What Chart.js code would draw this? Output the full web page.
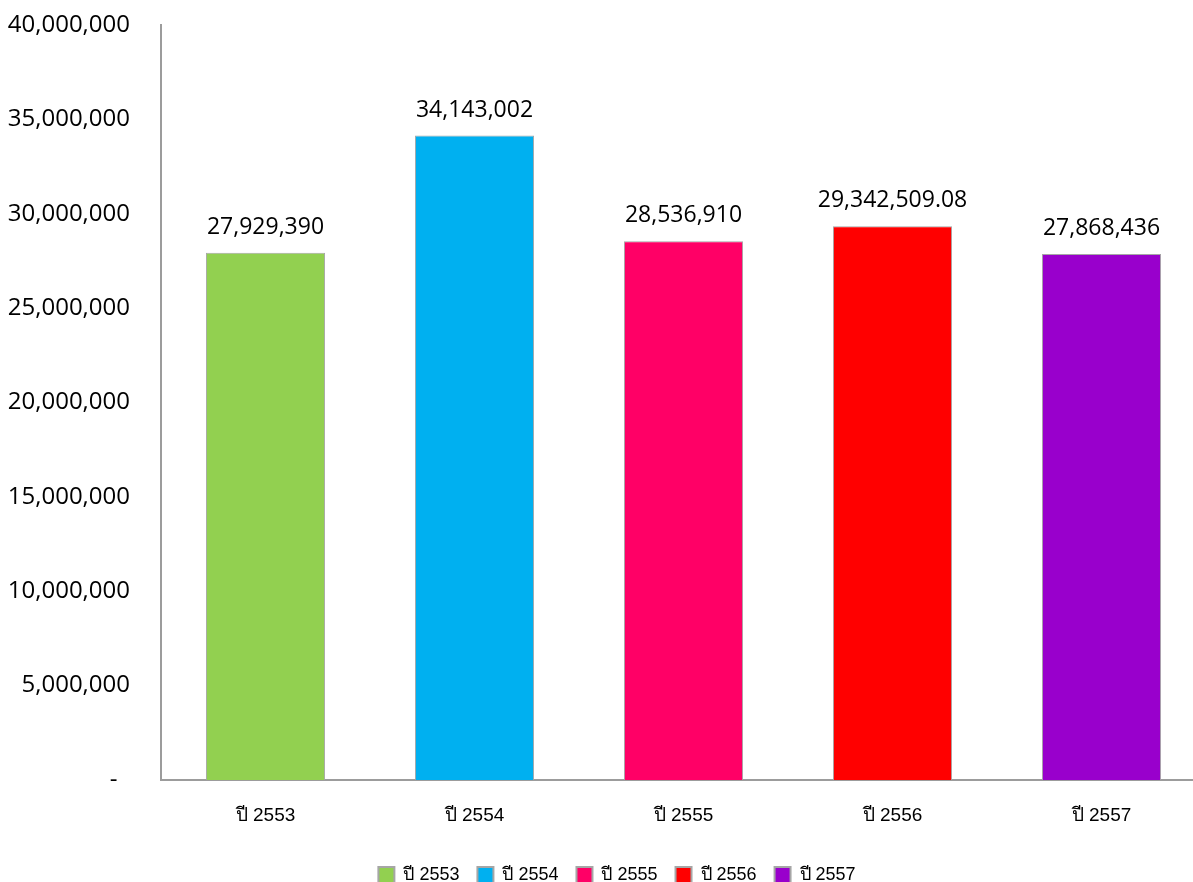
<!DOCTYPE html>
<html>
<head>
<meta charset="utf-8">
<script src="https://cdn.jsdelivr.net/npm/chart.js@4.4.0/dist/chart.umd.min.js"></script>
<style>
  html, body { margin: 0; padding: 0; background: #fff; overflow: hidden; }
  #wrap { width: 1258px; height: 882px; }
</style>
</head>
<body>
<div id="wrap"><canvas id="budgetChart" width="1258" height="882"></canvas></div>
<script>
/* =========================
   DATA
========================= */
const years = ["ปี 2553", "ปี 2554", "ปี 2555", "ปี 2556", "ปี 2557"];
const amounts = [27929390, 34143002, 28536910, 29342509.08, 27868436];
const barColors = ["#92d050", "#00b0f0", "#ff0066", "#ff0000", "#9900cc"];
const yTicks = [0, 5000000, 10000000, 15000000, 20000000, 25000000, 30000000, 35000000, 40000000];

const numFont = "'Open Sans', 'Liberation Sans', sans-serif";
const thaiFont = "'Liberation Sans', 'DejaVu Sans', sans-serif";

/* =========================
   VALUE LABELS ON TOP
========================= */
const valueLabels = {
  id: "valueLabels",
  afterDatasetsDraw(chart) {
    const ctx = chart.ctx;
    ctx.save();
    ctx.font = "23px " + numFont;
    ctx.fillStyle = "#000";
    ctx.textAlign = "center";
    ctx.textBaseline = "bottom";
    chart.data.datasets.forEach((ds, di) => {
      chart.getDatasetMeta(di).data.forEach((bar, i) => {
        const v = ds.data[i];
        if (v == null) return;
        const txt = v.toLocaleString("en-US", { maximumFractionDigits: 2 });
        ctx.fillText(txt, bar.x, bar.y - 14);
      });
    });
    ctx.restore();
  }
};

/* =========================
   LEGEND NUDGE
========================= */
// the plot runs past the visible window, so re-center the legend on what is seen
const legendShift = {
  id: "legendShift",
  afterLayout(chart) {
    if (!chart.legend) return;
    chart.legend.left += 14;
    chart.legend.right += 14;
  }
};

/* =========================
   CHART
========================= */
// one dataset per year so the legend lists each year, stacked so bars stay centered
const datasets = years.map((y, i) => ({
  label: y,
  data: years.map((_, j) => (j === i ? amounts[i] : null)),
  backgroundColor: barColors[i],
  borderColor: "#a6a6a6",
  borderWidth: 1,
  barPercentage: 0.57,
  categoryPercentage: 1,
  stack: "s"
}));

new Chart(document.getElementById("budgetChart"), {
  type: "bar",
  data: { labels: years, datasets },
  options: {
    responsive: false,
    animation: false,
    layout: { padding: { top: 0, right: 52, left: 0, bottom: -12 } },
    plugins: {
      legend: {
        position: "bottom",
        labels: {
          font: { family: thaiFont, size: 18 },
          color: "#333",
          boxWidth: 16,
          boxHeight: 16,
          padding: 18,
          generateLabels(chart) {
            return years.map((y, i) => ({
              text: y,
              fillStyle: barColors[i],
              strokeStyle: "#a6a6a6",
              lineWidth: 2,
              datasetIndex: i
            }));
          }
        }
      },
      tooltip: { enabled: false }
    },
    scales: {
      x: {
        stacked: true,
        grid: { display: false, drawTicks: false },
        border: { color: "#9c9c9c", width: 2 },
        ticks: {
          font: { family: thaiFont, size: 19 },
          color: "#000",
          padding: 24
        },
        afterFit(scale) { scale.height = 68; }
      },
      y: {
        stacked: true,
        min: 0,
        max: 40000000,
        afterBuildTicks(scale) {
          scale.ticks = yTicks.map(v => ({ value: v }));
        },
        // invisible tick marks push labels away from the axis without adding top padding
        grid: { display: false, drawTicks: true, tickLength: 18, tickColor: "rgba(0,0,0,0)" },
        border: { color: "#9c9c9c", width: 2 },
        ticks: {
          font: { family: numFont, size: 24, lineHeight: 1 },
          color: "#000",
          padding: 13,
          callback: v => (v === 0 ? "-  " : v.toLocaleString("en-US"))
        },
        afterFit(scale) { scale.width = 161; }
      }
    }
  },
  plugins: [valueLabels, legendShift]
});
</script>
</body>
</html>
